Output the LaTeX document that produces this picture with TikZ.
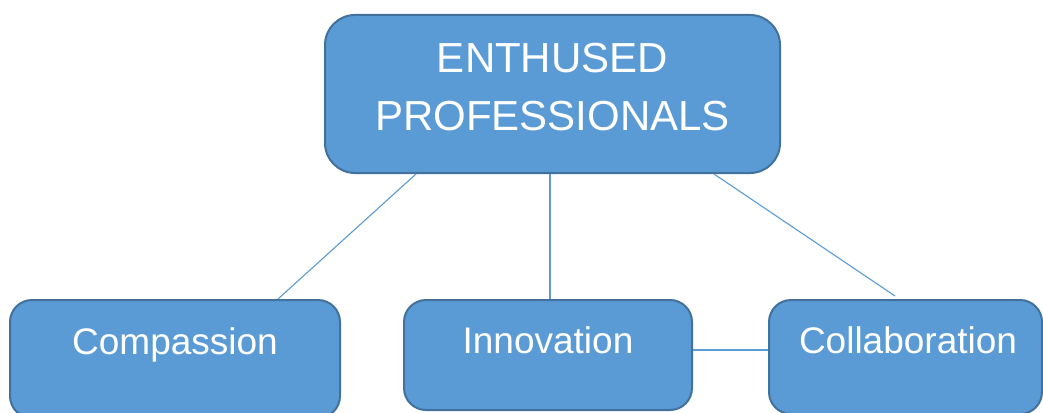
\documentclass[tikz,border=0pt]{standalone}
\usepackage{fontspec}
\setmainfont{Liberation Sans}
\definecolor{boxfill}{HTML}{5B9BD5}
\definecolor{boxedge}{HTML}{41719C}
\definecolor{linkcol}{HTML}{5B9BD5}
\begin{document}
\begin{tikzpicture}[x=1pt,y=-1pt,
  bluebox/.style={fill=boxfill,draw=boxedge,line width=2pt},
  toptext/.style={text=white,font=\fontsize{42}{58}\selectfont,align=center,inner sep=0pt},
  subtext/.style={text=white,font=\fontsize{37}{44}\selectfont,inner sep=0pt},
  link/.style={draw=linkcol,line width=1.1pt}]
\useasboundingbox (0,0) rectangle (1043,412);
\fill[white] (0,0) rectangle (1043,412);
% boxes
\draw[bluebox,rounded corners=30pt] (325,15) rectangle (780,173);
\node[inner sep=0pt,minimum width=455pt,minimum height=158pt] (top) at (552.5,94) {};
\draw[bluebox,rounded corners=22pt] (10,300) rectangle (340,418);
\node[inner sep=0pt,minimum width=330pt,minimum height=118pt] (comp) at (175,359) {};
\draw[bluebox,rounded corners=22pt] (404,300) rectangle (692,410);
\node[inner sep=0pt,minimum width=288pt,minimum height=110pt] (inno) at (548,355) {};
\draw[bluebox,rounded corners=22pt] (769,300) rectangle (1042,414);
\node[inner sep=0pt,minimum width=273pt,minimum height=114pt] (coll) at (905.5,357) {};
% texts
\node[toptext] (toplabel) at (552.5,87) {ENTHUSED\\PROFESSIONALS};
\node[subtext] (complabel) at (175,345) {Compassion};
\node[subtext] (innolabel) at (548,340) {Innovation};
\node[subtext] (colllabel) at (908,340) {Collaboration};
% connectors
\coordinate (t1) at (416,174);
\coordinate (c1) at (278,299);
\coordinate (t2) at (550,174);
\coordinate (i1) at (550,299);
\coordinate (t3) at (714,174);
\coordinate (l1) at (895,296);
\coordinate (i2) at (693,350);
\coordinate (l2) at (768,350);
\draw[link] (t1) -- (c1);
\draw[link] (t2) -- (i1);
\draw[link] (t3) -- (l1);
\draw[link] (i2) -- (l2);
\end{tikzpicture}
\end{document}
